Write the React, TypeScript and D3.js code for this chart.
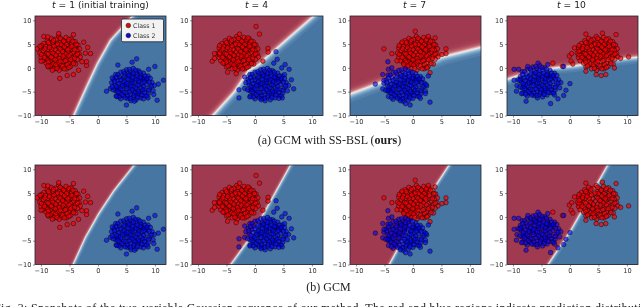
// snapshots of the decision boundary over time, top row with SS-BSL, bottom row without
import React, { useEffect, useRef } from 'react';
import * as d3 from 'd3';

const timeSteps = [1, 4, 7, 10];
const panelTitles = ['(initial training)', '', '', ''];
const xTicks = [-10, -5, 0, 5, 10];
const yTicks = [-10, -5, 0, 5, 10];
const xDomain = [-11.05, 11.95];
const yDomain = [-10, 10.9];
const legendLabels = ['Class 1', 'Class 2'];

// shared dense part of each cluster, offsets from the cluster centre
const redCore = [
  [-0.4,3.6],[0.9,3.4],[-1.7,3.2],[1.8,3.1],[-0.9,3.0],[0.2,2.9],[-2.4,2.7],[1.2,2.6],[2.5,2.5],[-1.4,2.4],
  [-0.2,2.3],[0.7,2.2],[-3.0,2.1],[1.9,2.0],[-2.0,1.9],[3.0,1.8],[-0.8,1.8],[0.3,1.7],[1.3,1.6],[-2.7,1.5],
  [2.4,1.4],[-1.5,1.4],[-3.5,1.2],[-0.3,1.2],[0.9,1.1],[3.3,1.0],[1.8,0.9],[-2.2,0.9],[-1.0,0.8],[2.8,0.7],
  [0.2,0.7],[-3.1,0.6],[-1.7,0.4],[1.3,0.4],[-0.5,0.3],[2.2,0.2],[-3.7,0.1],[0.6,0.1],[-2.5,0.0],[3.2,0.0],
  [-1.2,-0.1],[1.7,-0.2],[-0.1,-0.3],[-3.0,-0.4],[2.6,-0.4],[-2.0,-0.5],[0.9,-0.6],[-0.8,-0.7],[3.4,-0.7],[-3.5,-0.8],
  [1.9,-0.9],[-1.5,-1.0],[0.2,-1.0],[-2.6,-1.1],[2.9,-1.2],[1.1,-1.3],[-0.6,-1.4],[-3.2,-1.5],[-1.9,-1.6],[2.1,-1.6],
  [0.4,-1.7],[-1.1,-1.9],[1.4,-2.0],[-2.6,-2.0],[-0.2,-2.2],[2.6,-2.2],[-1.7,-2.4],[0.8,-2.5],[-0.7,-2.7],[1.7,-2.7],
  [-2.2,-2.8],[0.1,-3.0],[-1.2,-3.2],[1.0,-3.2],[-0.3,-3.5],[-1.6,0.9],[0.0,1.9],[-0.5,-1.9],[1.5,1.1],[-2.3,-1.4],
  [-0.1,3.2],[1.4,3.0],[-1.3,2.8],[0.5,2.6],[2.1,2.6],[-2.2,2.3],[1.0,1.9],[-0.6,2.0],[2.7,1.9],[-3.4,1.7],
  [-1.2,1.6],[1.9,1.5],[0.6,1.4],[-2.0,1.3],[-0.1,0.9],[1.2,0.8],[-2.8,1.0],[2.4,0.8],[-1.4,0.1],[0.3,0.4],
  [-3.4,-0.2],[0.9,-0.1],[2.9,-0.1],[-2.2,-0.1],[-0.9,-0.3],[1.4,-0.5],[-1.7,-0.7],[0.4,-0.5],[2.4,-1.0],[-0.3,-1.0],
  [-2.9,-0.8],[-1.0,-1.3],[0.8,-1.5],[1.7,-1.3],[-2.2,-1.8],[-0.1,-1.6],[1.1,-2.3],[-1.4,-2.2],[2.2,-2.1],[0.3,-2.6],
  [-0.9,-2.4],[-1.9,-2.6],[0.6,-3.2],[-0.7,-3.1],[1.4,-2.9],
];
const blueCore = [
  [0.2,3.2],[-1.0,2.9],[1.1,2.7],[-0.3,2.5],[-2.0,2.4],[0.7,2.3],[2.0,2.2],[-1.3,2.1],[-2.9,1.9],[0.0,1.9],
  [1.5,1.8],[2.8,1.6],[-0.8,1.5],[-2.2,1.4],[0.6,1.3],[3.2,1.1],[-1.6,1.1],[1.9,1.0],[-3.2,0.9],[-0.2,0.9],
  [1.1,0.7],[2.6,0.6],[-2.5,0.6],[-1.0,0.4],[0.4,0.3],[3.5,0.2],[-3.6,0.2],[1.7,0.1],[-1.8,0.0],[-0.4,-0.1],
  [2.5,-0.2],[0.9,-0.3],[-3.0,-0.3],[3.9,-0.4],[-1.1,-0.6],[0.2,-0.6],[1.6,-0.8],[-2.3,-0.8],[3.1,-0.9],[-3.8,-1.0],
  [-0.4,-1.1],[0.9,-1.2],[2.3,-1.3],[-1.7,-1.4],[-2.9,-1.5],[3.7,-1.5],[0.3,-1.7],[1.5,-1.8],[-1.0,-1.9],[2.9,-2.0],
  [-2.2,-2.0],[-0.3,-2.3],[0.9,-2.4],[2.2,-2.5],[-1.5,-2.6],[-2.8,-2.6],[0.2,-2.9],[1.5,-3.0],[-0.8,-3.1],[-2.0,-3.2],
  [2.8,-3.0],[0.7,-3.4],[-0.2,-3.6],[1.6,1.2],[-1.3,-0.3],[0.0,0.6],[-0.7,2.0],[1.2,-2.0],[-2.6,-1.2],[2.2,0.9],
  [-0.5,3.0],[0.6,2.8],[-1.5,2.5],[1.4,2.4],[0.2,2.2],[-2.5,1.9],[-0.5,1.7],[2.3,1.6],[0.9,1.6],[-1.4,1.5],
  [-2.8,1.3],[0.1,1.3],[1.4,1.3],[-0.7,0.9],[2.6,1.1],[-2.0,0.8],[0.7,0.8],[-3.1,0.4],[1.2,0.3],[-1.4,0.4],
  [2.1,0.4],[3.0,0.3],[0.0,0.1],[-2.3,0.0],[-0.9,0.0],[1.2,-0.3],[3.4,-0.5],[-1.7,-0.4],[-0.2,-0.5],[2.0,-0.6],
  [-2.7,-0.6],[0.6,-0.9],[-0.9,-1.0],[1.9,-1.3],[-2.0,-1.1],[2.9,-1.4],[0.0,-1.3],[-3.3,-1.3],[1.1,-1.6],[-1.4,-1.8],
  [-0.5,-1.7],[2.2,-1.9],[0.5,-2.0],[-2.5,-1.7],[-1.8,-2.3],[1.7,-2.4],[-0.8,-2.6],[0.3,-2.5],[2.6,-2.6],[-2.3,-2.8],
  [1.0,-2.9],[-1.2,-3.0],[-0.3,-3.1],
];

const redCentres = [[-6.5, 3], [-2.8, 3], [1, 3], [5, 3]];
const blueCentres = [[6, -3.3], [2, -3.3], [-1.5, -3.4], [-5.5, -2.7]];

// stragglers
const redStragglers = [
  [[-9.5,6.6],[-8.8,6.5],[-10.2,4.5],[-10.7,4],[-10,1.4],[-6.7,-2.2],[-5.4,-1.6],[-4.3,-1.4],[-3.4,-0.5],[-2,0.5],[-2,1.3],[-2.8,1.3],[-1.3,3],[-2.2,3.1],[-1.8,4.3],[-2.5,5.4],[-4.3,7],[-6.9,7.2],[-8.8,0.4],[-8,-0.5]],
  [[0.2,8.7],[0.8,7.1],[-7.5,1.4],[-7.1,3],[-6.2,3.1],[-7.1,2],[-4.8,-0.9],[-2.7,7.1],[-1.2,6.3],[2.3,4.1],[2.3,3.3],[1.4,1.4],[-3.3,-1.2],[-5.6,1]],
  [[-5.1,4],[-3.7,3],[0.4,7.7],[2.7,6.6],[5.8,4],[5.8,3],[5.1,2.8],[3.9,6.3],[3,-1],[2.5,0],[-1.9,5.4],[-2.8,1.5],[-1.6,0.7]],
  [[2.8,7.1],[10.3,2.3],[8.1,7],[8.9,2],[-0.1,2.5],[0.3,3],[0.2,1.4],[0.8,4.2],[2.8,-0.7],[4.6,-1.4],[5.5,-1.6],[6.3,-1.4],[7.8,0],[1.6,3.5],[0.5,0.8],[5.7,7.3],[-3,1],[-1.3,0.3]],
];
const blueStragglers = [
  [[1.5,-4.9],[5,-7.8],[11.5,-2.6],[10.4,-6.8],[10.6,-3.4],[10,0.3],[6,1.2],[6.8,1.9],[3.5,0.6],[8.9,-0.3],[2.5,-2.1],[9.8,-5.6],[8,-6.5],[6.4,-7],[3.3,-6],[2.5,-4]],
  [[3.7,3.4],[3.9,1.8],[6.8,-4.4],[6.4,-2.5],[5.3,0.7],[6,-0.3],[-2.8,-4.6],[-2.8,-6.3],[-0.9,-6.1],[1.1,-6.7],[4.2,-6.4],[3.3,1],[-1.8,-1.9],[5.2,-1.4],[4.7,0]],
  [[-6.6,-3.4],[3,-7.2],[-4.4,1.3],[-5.3,-1.4],[-5.1,-2.6],[-4.4,-4.7],[-4.3,-0.3],[-0.5,-7.8],[-1.3,-7.5],[-2.2,-6.9],[2.3,-3.5],[2.2,-5.4],[2.7,-1.7],[-3.7,0]],
  [[-9.8,-0.3],[-9,-0.3],[-9.8,-2.6],[-8.8,-2.6],[-9.4,-4.9],[-8.5,-5.4],[-7.7,-7],[-3.4,-7.5],[0,-3.3],[-0.7,-4.7],[-1.1,-5.8],[-2.1,-6.5],[-1.1,0.3],[-7.4,0.3],[-5.6,1],[-3.9,0.7]],
];

// decision boundaries, red on the left of the direction of travel
const boundariesTop = [
  [[-5.5,-13],[-4.4,-10],[-3.7,-8.1],[-2,-3.6],[-0.2,1],[2.1,5.9],[5.9,10.9],[8,13.5]],
  [[-10,-13],[-7.6,-10],[-3.8,-5],[-1.2,-0.4],[0.7,0.9],[1.5,1.9],[5.6,6.2],[10,10.8],[12,13]],
  [[-14,-7],[-11,-5.3],[-5,-2.6],[0,-0.1],[5,2.4],[12,4.5],[15,5.2]],
  [[-14,-3.2],[-11,-2.2],[-7,-0.6],[-3,0.1],[1,0.6],[5,1.4],[9,2],[12,2.4],[15,2.8]],
];
const boundariesBottom = [
  [[-5.7,-13],[-4.5,-10],[-2.3,-4.2],[0.05,0.8],[2.7,5.6],[6.2,10.9],[8,13.5]],
  [[-6.3,-13],[-4.4,-10],[-0.9,-4.2],[2.05,2.1],[6.1,10.9],[7.5,13.5]],
  [[-5.8,-13],[-4.3,-10],[0.1,-0.3],[6.2,10.9],[7.5,13.5]],
  [[-5.8,-13],[-4,-10],[0.05,-2.75],[6.5,10.9],[8,13.5]],
];
const softnessTop = [1.2, 1.7, 2.1, 1.6];
const softnessBottom = [0.9, 0.9, 0.9, 0.9];

const bandColors = ['#a03a50', '#c9707a', '#f7efe9', '#8cb6d4', '#41709f'];

const captions = ['(a) GCM with SS-BSL (', 'ours', ')'];
const captionB = '(b) GCM';
const figureNote = 'Fig. 3: Snapshots of the two-variable Gaussian sequence of our method. The red and blue regions indicate prediction distribution';

const settings = {
  width: 640,
  height: 307,
  panelLefts: [35, 192, 350, 507],
  panelWidth: 131,
  rowTops: [16, 165],
  panelHeight: 99.5,
};

const drawPanel = function(root, left, top, idx, boundary, softness, showLegend) {
  const { panelWidth: w, panelHeight: h } = settings;
  const x = d3.scaleLinear().domain(xDomain).range([0, w]);
  const y = d3.scaleLinear().domain(yDomain).range([h, 0]);
  const g = root.append('g').attr('transform', `translate(${left},${top})`);

  // background: signed distance to the boundary, run through d3.contours like a contourf
  const line = boundary.map(d => [x(d[0]), y(d[1])]);
  const gw = Math.ceil(w), gh = Math.ceil(h);
  const values = new Array(gw * gh);
  for (let j = 0; j < gh; j++) {
    for (let i = 0; i < gw; i++) {
      let best = Infinity, sign = 1;
      for (let k = 0; k < line.length - 1; k++) {
        const [ax, ay] = line[k], [bx, by] = line[k + 1];
        const dx = bx - ax, dy = by - ay;
        const t = Math.max(0, Math.min(1, ((i - ax) * dx + (j - ay) * dy) / (dx * dx + dy * dy)));
        const ex = i - (ax + t * dx), ey = j - (ay + t * dy);
        const dist = ex * ex + ey * ey;
        if (dist < best) {
          best = dist;
          sign = dx * (j - ay) - dy * (i - ax) > 0 ? 1 : -1;
        }
      }
      values[j * gw + i] = 1 / (1 + Math.exp(-sign * Math.sqrt(best) / softness));
    }
  }
  const levels = d3.range(0.02, 1, 0.04);
  const color = d3.scaleLinear().domain([0, 0.25, 0.5, 0.75, 1]).range(bandColors);
  g.append('rect').attr('width', w).attr('height', h).attr('fill', color(0));
  const clipId = `clip-${left}-${top}`;
  g.append('clipPath').attr('id', clipId).append('rect').attr('width', w).attr('height', h);
  const inner = g.append('g').attr('clip-path', `url(#${clipId})`);
  const contours = d3.contours().size([gw, gh]).thresholds(levels)(values);
  inner.selectAll('path.band').data(contours).join('path')
    .attr('class', 'band')
    .attr('d', d3.geoPath())
    .attr('fill', d => color(d.value));

  const cluster = (core, centre, extra) =>
    core.map(d => [d[0] + centre[0], d[1] + centre[1]]).concat(extra);
  const dots = (pts, fill) => inner.append('g').selectAll('circle').data(pts).join('circle')
    .attr('cx', d => x(d[0]))
    .attr('cy', d => y(d[1]))
    .attr('r', 2.3)
    .attr('fill', fill)
    .attr('stroke', 'rgba(0,0,0,0.62)')
    .attr('stroke-width', 0.7);
  dots(cluster(redCore, redCentres[idx], redStragglers[idx]), 'rgba(255,0,0,0.68)');
  dots(cluster(blueCore, blueCentres[idx], blueStragglers[idx]), 'rgba(0,0,255,0.6)');

  const axisStyle = sel => {
    sel.selectAll('text').attr('font-family', 'DejaVu Sans').attr('font-size', 6.6).attr('fill', '#333');
    sel.selectAll('line').attr('stroke', '#222').attr('stroke-width', 0.5);
    sel.select('.domain').remove();
  };
  g.append('g').attr('transform', `translate(0,${h})`)
    .call(d3.axisBottom(x).tickValues(xTicks).tickSize(2).tickPadding(1.5).tickFormat(d3.format('d')))
    .call(axisStyle);
  g.append('g')
    .call(d3.axisLeft(y).tickValues(yTicks).tickSize(2).tickPadding(1.5).tickFormat(d3.format('d')))
    .call(axisStyle);

  g.append('rect').attr('width', w).attr('height', h)
    .attr('fill', 'none').attr('stroke', '#23232d').attr('stroke-width', 0.8);

  if (showLegend) {
    const lg = g.append('g').attr('transform', 'translate(86.5,3)');
    lg.append('rect').attr('width', 42).attr('height', 22.8).attr('rx', 1.5)
      .attr('fill', '#f2f2f2').attr('stroke', '#23232d').attr('stroke-width', 0.8);
    legendLabels.forEach((label, i) => {
      lg.append('circle').attr('cx', 6.8).attr('cy', 6.5 + i * 10).attr('r', 2.3)
        .attr('fill', i === 0 ? '#e00c0c' : '#0c0cd8')
        .attr('stroke', 'rgba(0,0,0,0.7)').attr('stroke-width', 0.7);
      lg.append('text').attr('x', 11.5).attr('y', 8.7 + i * 10)
        .attr('font-family', 'DejaVu Sans').attr('font-size', 6.3).attr('fill', '#333')
        .text(label);
    });
  }
};

export default function App() {
  const ref = useRef(null);

  useEffect(() => {
    const svg = d3.select(ref.current);
    svg.selectAll('*').remove();
    const { panelLefts, rowTops, panelWidth } = settings;

    svg.append('rect').attr('width', settings.width).attr('height', settings.height).attr('fill', '#fff');

    timeSteps.forEach((step, i) => {
      drawPanel(svg, panelLefts[i], rowTops[0], i, boundariesTop[i], softnessTop[i], i === 0);
      drawPanel(svg, panelLefts[i], rowTops[1], i, boundariesBottom[i], softnessBottom[i], false);

      const title = svg.append('text')
        .attr('x', panelLefts[i] + panelWidth / 2 + (i === 0 ? 0 : -1))
        .attr('y', 7.5)
        .attr('text-anchor', 'middle')
        .attr('font-family', 'DejaVu Sans')
        .attr('font-size', 9.2)
        .attr('fill', '#222');
      title.append('tspan').attr('font-style', 'italic').text('t');
      title.append('tspan').text(` = ${step}${panelTitles[i] ? ' ' + panelTitles[i] : ''}`);
    });

    const capA = svg.append('text')
      .attr('x', 329.5).attr('y', 143.5).attr('text-anchor', 'middle')
      .attr('font-family', 'Liberation Serif').attr('font-size', 12).attr('fill', '#222');
    capA.append('tspan').text(captions[0]);
    capA.append('tspan').attr('font-weight', 'bold').text(captions[1]);
    capA.append('tspan').text(captions[2]);

    svg.append('text')
      .attr('x', 328.5).attr('y', 291).attr('text-anchor', 'middle')
      .attr('font-family', 'Liberation Serif').attr('font-size', 12).attr('fill', '#222')
      .text(captionB);

    svg.append('text')
      .attr('x', -6).attr('y', 312)
      .attr('font-family', 'Liberation Serif').attr('font-size', 12).attr('fill', '#222')
      .attr('textLength', 660)
      .text(figureNote);
  }, []);

  return (
    <svg
      ref={ref}
      width={settings.width}
      height={settings.height}
      style={{ position: 'absolute', left: 0, top: 0, display: 'block', filter: 'blur(0.3px)' }}
    />
  );
}
